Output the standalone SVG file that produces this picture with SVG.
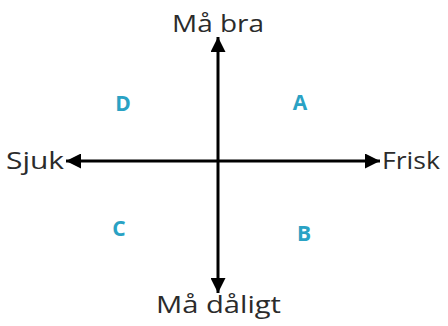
<svg xmlns="http://www.w3.org/2000/svg" width="448" height="326" viewBox="0 0 448 326">
  <style>
    .axis { stroke: #000; stroke-width: 3; fill: none; }
    .label { font-family: "Open Sans", "DejaVu Sans", sans-serif; font-size: 24px; fill: #2b2b2b; }
    .quad { font-family: "Open Sans", "DejaVu Sans", sans-serif; font-size: 21px; font-weight: bold; fill: #2aa2c4; text-anchor: middle; }
  </style>
  <defs>
    <marker id="head" viewBox="0 0 10 10" refX="10" refY="5" markerWidth="5.5" markerHeight="5" markerUnits="strokeWidth" orient="auto">
      <path d="M0,0 L10,5 L0,10 z" fill="#000"/>
    </marker>
  </defs>
  <rect width="448" height="326" fill="#fff"/>

  <!-- the two axes, each drawn as two arrows out from the centre -->
  <g id="connectors">
    <line class="axis" x1="218" y1="161" x2="218" y2="37" marker-end="url(#head)"/>
    <line class="axis" x1="218" y1="161" x2="218" y2="293" marker-end="url(#head)"/>
    <line class="axis" x1="218" y1="161" x2="66" y2="161" marker-end="url(#head)"/>
    <line class="axis" x1="218" y1="161" x2="380" y2="161" marker-end="url(#head)"/>
  </g>

  <g id="top">
    <text class="label" x="172" y="32" textLength="92" lengthAdjust="spacingAndGlyphs">Må bra</text>
  </g>
  <g id="bottom">
    <text class="label" x="156" y="313" textLength="125" lengthAdjust="spacingAndGlyphs">Må dåligt</text>
  </g>
  <g id="left">
    <text class="label" x="6" y="169" textLength="58" lengthAdjust="spacingAndGlyphs">Sjuk</text>
  </g>
  <g id="right">
    <text class="label" x="382" y="169" textLength="58" lengthAdjust="spacingAndGlyphs">Frisk</text>
  </g>

  <g id="quadrant-a"><text class="quad" x="300" y="110">A</text></g>
  <g id="quadrant-b"><text class="quad" x="304" y="241">B</text></g>
  <g id="quadrant-c"><text class="quad" x="119" y="236">C</text></g>
  <g id="quadrant-d"><text class="quad" x="123" y="111">D</text></g>
</svg>
